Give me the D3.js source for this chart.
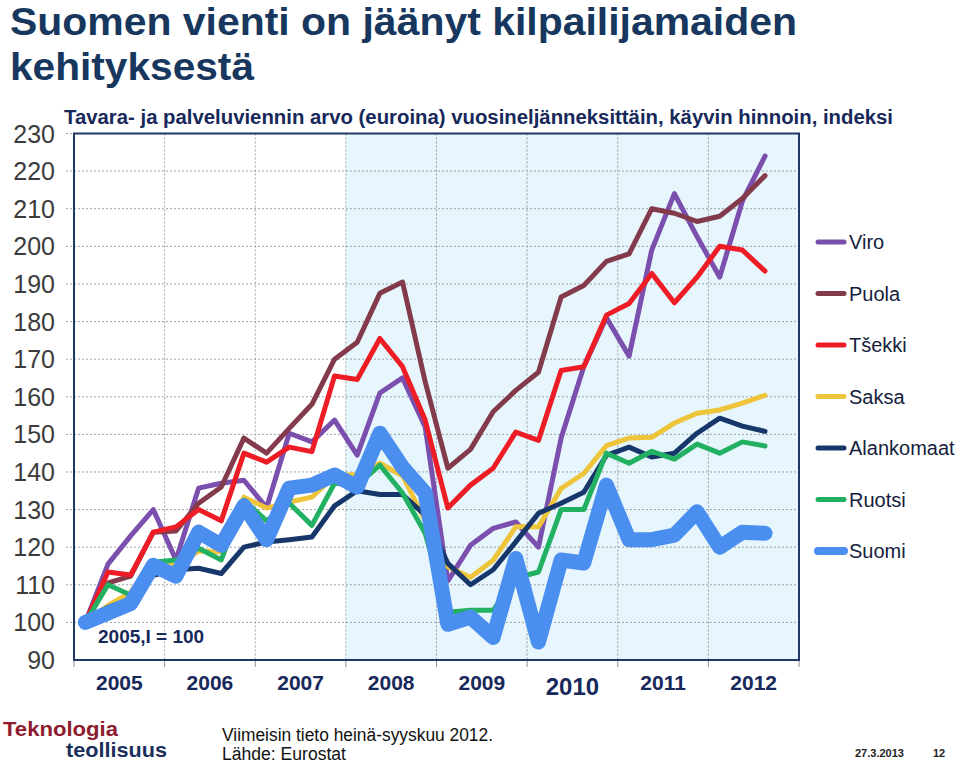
<!DOCTYPE html>
<html><head><meta charset="utf-8">
<script src="https://cdn.jsdelivr.net/npm/d3@7"></script>
<style>
html,body{margin:0;padding:0;background:#fff;}
svg{display:block;}
</style></head>
<body>
<script>
// ---- data ----
const years = ["2005","2006","2007","2008","2009","2010","2011","2012"];
const yTicks = [90,100,110,120,130,140,150,160,170,180,190,200,210,220,230];
const seriesNames = ["Viro","Puola","Tšekki","Saksa","Alankomaat","Ruotsi","Suomi"];
const viro = [100,115.5,123,130,116.6,135.7,137,137.8,130.5,150.3,148,153.8,144.5,161,165,152,111,120.5,125,126.7,120,149,168,181,170.8,199,214,202.6,191.8,212,224];
const puola = [100,110.5,112.3,124,124.3,131.7,136,149,145,151.6,158,170,174.5,187.5,190.5,164,141,146,156,161.7,166.5,186.5,189.6,196,198,210,208.8,206.6,208,212.7,218.8];
const tsekki = [100,113.4,112.6,124,125.4,130,127,145,142.6,146.6,145.4,165.5,164.6,175.5,168,153.8,130.4,136.5,141,150.6,148.4,167,168,181.7,184.8,192.8,185,191.8,200,199,193.4];
const saksa = [100,104.5,108,116,115,119,118.7,133.3,130.4,132,133.3,139,139.3,142.3,139,127,114.8,112,116.5,125.4,125.4,135.6,139.6,147,149,149.2,153,155.6,156.5,158.3,160.4];
const alankomaat = [100,104,106,112.5,114,114.4,113,120,121.4,122,122.7,131,135,134,134,128.5,115.7,110,114,121.4,129,131.7,134.6,144.4,146.6,144,145,150.3,154.3,152.2,150.8];
const ruotsi = [100,110,107.3,116,116.6,119.7,116.6,132.5,127,131.7,125.8,137,136.5,141.8,134.4,123.7,102.7,103.2,103.2,111.8,113.4,130,130,145,142.3,145.5,143.4,147.4,145,148,146.9];
const suomi = [100,102.5,105,115.2,112.3,124,120.5,131,122,135.7,136.5,139.2,136,150.3,141.3,134.4,99.5,101.4,96,117,94.8,116.6,115.8,136.5,122,122,123.2,129.4,120,124,123.7];
const seriesValues = [viro,puola,tsekki,saksa,alankomaat,ruotsi,suomi];
const seriesColors = ["#7B4FAE","#833B4C","#EE1D25","#EEC43A","#17366A","#22B062","#4A8EF0"];
const seriesWidths = [5,5,5,5,5,5,15];

// ---- layout ----
const W=960,H=764;
const L=74,R=799,T=133.5,B=660;
const svg=d3.select("body").append("svg").attr("width",W).attr("height",H);
const font="'Liberation Sans Narrow','Arial Narrow','Liberation Sans',Arial,sans-serif";
const fontN="'Liberation Sans',Arial,sans-serif";
const navy="#17285A";

const x=d3.scaleLinear().domain([0,years.length*4]).range([L,R]);
const y=d3.scaleLinear().domain([90,230]).range([B,T]);

// shaded region from 2008
svg.append("rect").attr("x",x(12)).attr("y",T).attr("width",x(32)-x(12)).attr("height",B-T).attr("fill","#E6F6FC");

// grid
svg.append("g").selectAll("line").data(yTicks.filter(d=>d>90)).join("line")
  .attr("x1",L-8).attr("x2",R).attr("y1",d=>y(d)).attr("y2",d=>y(d))
  .attr("stroke","#9aa3a8").attr("stroke-width",1).attr("stroke-dasharray","2,2");
svg.append("g").selectAll("line").data(d3.range(1,years.length)).join("line")
  .attr("x1",d=>x(d*4)).attr("x2",d=>x(d*4)).attr("y1",T).attr("y2",B)
  .attr("stroke","#9aa3a8").attr("stroke-width",1).attr("stroke-dasharray","2,2");
// x ticks
svg.append("g").selectAll("line").data(d3.range(0,years.length+1)).join("line")
  .attr("x1",d=>x(d*4)).attr("x2",d=>x(d*4)).attr("y1",B).attr("y2",B+7)
  .attr("stroke","#8a9096").attr("stroke-width",1);

// frame
svg.append("rect").attr("x",L).attr("y",T).attr("width",R-L).attr("height",B-T)
  .attr("fill","none").attr("stroke","#1F3864").attr("stroke-width",2);

// y labels
svg.append("g").selectAll("text").data(yTicks).join("text")
  .attr("x",55).attr("y",d=>y(d)).attr("dy","0.36em").attr("text-anchor","end")
  .attr("font-family",fontN).attr("font-size",25).attr("fill","#3c3c3c")
  .text(d=>d);

// x labels
svg.append("g").selectAll("text").data(years).join("text")
  .attr("x",(d,i)=>x(i*4+2)).attr("y",(d)=>d==="2010"?695:690).attr("text-anchor","middle")
  .attr("font-family",font).attr("font-weight","bold").attr("font-size",d=>d==="2010"?24:21).attr("fill",navy)
  .text(d=>d);

// lines
const line=d3.line().x((d,i)=>x(i+0.5)).y(d=>y(d)).curve(d3.curveLinear);
svg.append("g").selectAll("path").data(seriesValues).join("path")
  .attr("d",d=>line(d)).attr("fill","none")
  .attr("stroke",(d,i)=>seriesColors[i]).attr("stroke-width",(d,i)=>seriesWidths[i])
  .attr("stroke-linejoin","round").attr("stroke-linecap","round");

// base note
svg.append("text").attr("x",98).attr("y",643).attr("font-family",fontN).attr("font-weight","bold")
  .attr("font-size",19).attr("fill",navy).text("2005,I = 100");

// legend
const lg=svg.append("g").selectAll("g").data(seriesNames).join("g")
  .attr("transform",(d,i)=>`translate(0,${242+i*51.5})`);
lg.append("line").attr("x1",818).attr("x2",844).attr("y1",0).attr("y2",0)
  .attr("stroke",(d,i)=>seriesColors[i]).attr("stroke-width",(d,i)=>i===6?8:5).attr("stroke-linecap","round");
lg.append("text").attr("x",849).attr("y",0).attr("dy","0.36em").attr("font-family",fontN)
  .attr("font-size",20).attr("fill","#14213D").text(d=>d);

// title
svg.append("text").attr("x",10).attr("y",35).attr("font-family",font).attr("font-weight","bold")
  .attr("font-size",39).attr("fill","#17375E").attr("textLength",787).attr("lengthAdjust","spacingAndGlyphs")
  .text("Suomen vienti on jäänyt kilpailijamaiden");
svg.append("text").attr("x",10).attr("y",80).attr("font-family",font).attr("font-weight","bold")
  .attr("font-size",39).attr("fill","#17375E").attr("textLength",244).attr("lengthAdjust","spacingAndGlyphs")
  .text("kehityksestä");
svg.append("text").attr("x",64).attr("y",124).attr("font-family",font).attr("font-weight","bold")
  .attr("font-size",20).attr("fill",navy).attr("textLength",829).attr("lengthAdjust","spacingAndGlyphs")
  .text("Tavara- ja palveluviennin arvo (euroina) vuosineljänneksittäin, käyvin hinnoin, indeksi");

// footer
svg.append("text").attr("x",3).attr("y",736).attr("font-family",font).attr("font-weight","bold")
  .attr("font-size",21).attr("fill","#8E1B2E").attr("textLength",115).attr("lengthAdjust","spacingAndGlyphs").text("Teknologia");
svg.append("text").attr("x",66).attr("y",757).attr("font-family",font).attr("font-weight","bold")
  .attr("font-size",21).attr("fill","#1B2F5C").attr("textLength",101).attr("lengthAdjust","spacingAndGlyphs").text("teollisuus");
svg.append("text").attr("x",222).attr("y",741).attr("font-family",font)
  .attr("font-size",18).attr("fill","#111").attr("textLength",271).attr("lengthAdjust","spacingAndGlyphs").text("Viimeisin tieto heinä-syyskuu 2012.");
svg.append("text").attr("x",222).attr("y",760).attr("font-family",font)
  .attr("font-size",18).attr("fill","#111").attr("textLength",124).attr("lengthAdjust","spacingAndGlyphs").text("Lähde: Eurostat");
svg.append("text").attr("x",855).attr("y",757).attr("font-family",font).attr("font-weight","bold")
  .attr("font-size",11).attr("fill","#222").text("27.3.2013");
svg.append("text").attr("x",933).attr("y",757).attr("font-family",font).attr("font-weight","bold")
  .attr("font-size",11).attr("fill","#222").text("12");
</script>
</body></html>
